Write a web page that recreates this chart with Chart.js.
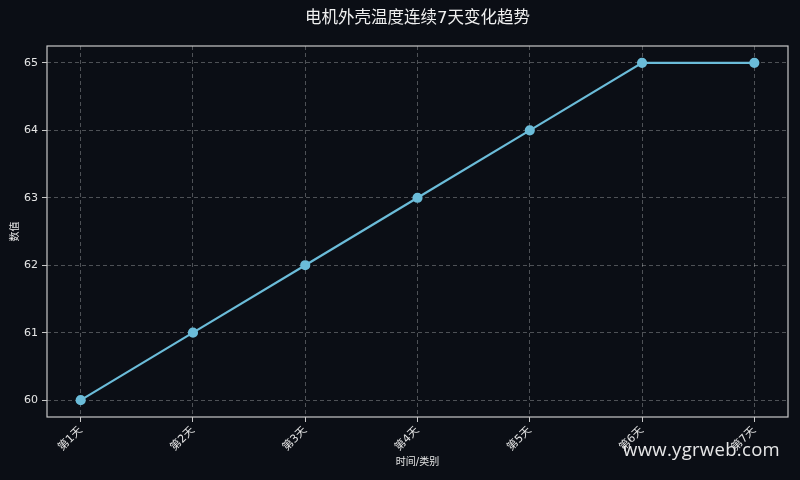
<!DOCTYPE html>
<html>
<head>
<meta charset="utf-8">
<script src="https://cdn.jsdelivr.net/npm/chart.js@4"></script>
<style>
    html, body { margin: 0; padding: 0; background: #0b0e15; }
    #wrap { position: relative; width: 800px; height: 480px; }
    #watermark {
        position: absolute; right: 20px; top: 436px;
        font-family: 'Open Sans', 'DejaVu Sans', sans-serif; font-size: 18.5px;
        color: rgba(255, 255, 255, 0.9); letter-spacing: 0.3px;
    }
</style>
</head>
<body>
<div id="wrap">
    <canvas id="lineChart" width="800" height="480"></canvas>
    <div id="watermark">www.ygrweb.com</div>
</div>
<script>
// ===== DATOS =====
const categories = ['第1天', '第2天', '第3天', '第4天', '第5天', '第6天', '第7天'];
const temperature = [60, 61, 62, 63, 64, 65, 65];
const yTicks = [60, 61, 62, 63, 64, 65];
const chartTitle = '电机外壳温度连续7天变化趋势';

const FONT = "'DejaVu Sans', 'Noto Sans CJK SC', sans-serif";
const TEXT = '#e6e6e6';
const GRID = 'rgba(255, 255, 255, 0.28)';
const FRAME = '#c8c8c8';

Chart.defaults.font.family = FONT;
Chart.defaults.color = TEXT;

// marco completo + título centrado sobre el área del gráfico
const frameBox = {
    id: 'frameBox',
    afterDraw(chart) {
        const a = chart.chartArea;
        const c = chart.ctx;
        c.save();
        c.strokeStyle = FRAME;
        c.lineWidth = 1.2;
        c.strokeRect(a.left, a.top, a.right - a.left, a.bottom - a.top);
        c.fillStyle = '#f0f0f0';
        c.font = "16.5px " + FONT;
        c.textAlign = 'center';
        c.textBaseline = 'middle';
        c.fillText(chartTitle, (a.left + a.right) / 2, 19);
        c.restore();
    }
};

const points = temperature.map((v, i) => ({ x: i, y: v }));

const gridOpts = {
    color: GRID,
    tickColor: FRAME,
    tickBorderDash: [],
    tickLength: 5,
    tickWidth: 1
};

new Chart(document.getElementById('lineChart'), {
    type: 'line',
    data: {
        datasets: [{
            label: '数值',
            data: points,
            borderColor: '#6bbcd9',
            backgroundColor: '#6bbcd9',
            borderWidth: 2.2,
            pointRadius: 4,
            pointHoverRadius: 4,
            tension: 0
        }]
    },
    options: {
        responsive: false,
        animation: false,
        layout: { padding: { left: 0, right: 12, top: 46, bottom: 0 } },
        plugins: {
            legend: { display: false },
            tooltip: { enabled: false },
            title: { display: false }
        },
        scales: {
            x: {
                type: 'linear',
                min: -0.3,
                max: 6.3,
                afterBuildTicks: (s) => { s.ticks = categories.map((_, i) => ({ value: i })); },
                afterFit: (s) => { s.height = 63; },
                ticks: {
                    color: TEXT,
                    font: { size: 11 },
                    minRotation: 45,
                    maxRotation: 45,
                    padding: 2,
                    callback: (v) => categories[v]
                },
                grid: gridOpts,
                border: { display: false, dash: [4, 3] },
                title: {
                    display: true,
                    text: '时间/类别',
                    color: TEXT,
                    font: { size: 10 },
                    padding: { top: 0, bottom: 12 }
                }
            },
            y: {
                min: 59.75,
                max: 65.25,
                afterBuildTicks: (s) => { s.ticks = yTicks.map(v => ({ value: v })); },
                afterFit: (s) => { s.width = 47; },
                ticks: {
                    color: TEXT,
                    font: { size: 11 },
                    padding: 4
                },
                grid: gridOpts,
                border: { display: false, dash: [4, 3] },
                title: {
                    display: true,
                    text: '数值',
                    color: TEXT,
                    font: { size: 10 },
                    padding: { top: 9, bottom: 0 }
                }
            }
        }
    },
    plugins: [frameBox]
});
</script>
</body>
</html>
